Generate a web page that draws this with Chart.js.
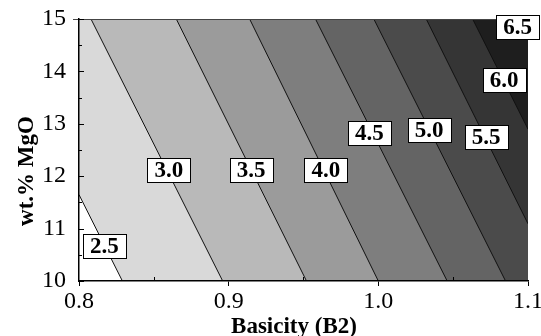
<!DOCTYPE html>
<html>
<head>
<meta charset="utf-8">
<script src="https://cdn.jsdelivr.net/npm/chart.js@4.4.1/dist/chart.umd.min.js"></script>
<style>
  html, body { margin: 0; padding: 0; background: #fff; }
  #wrap { width: 541px; height: 336px; }
</style>
</head>
<body>
<div id="wrap"><canvas id="contour"></canvas></div>
<script>
'use strict';

// ── data ─────────────────────────────────────
// each contour is a straight line, read off where it meets MgO = 10 and MgO = 15
const contourLevels   = [2.5, 3.0, 3.5, 4.0, 4.5, 5.0, 5.5, 6.0, 6.5];
const basicityAtMgO10 = [0.829, 0.896, 0.952, 1.000, 1.046, 1.085, 1.119, 1.151, 1.188];
const basicityAtMgO15 = [0.741, 0.808, 0.865, 0.914, 0.958, 0.997, 1.032, 1.063, 1.100];

// where the level boxes sit (basicity, wt.% MgO)
const labelBasicity = [0.817, 0.860, 0.915, 0.965, 0.994, 1.034, 1.072, 1.084, 1.093];
const labelMgO      = [10.67, 12.12, 12.12, 12.12, 12.82, 12.89, 12.75, 13.84, 14.85];

const xTicks      = [0.8, 0.9, 1.0, 1.1];
const xMinorTicks = [0.85, 0.95, 1.05];
const yTicks      = [10, 11, 12, 13, 14, 15];
const yMinorTicks = [10.5, 11.5, 12.5, 13.5, 14.5];

// fill above each contour, light to dark
const bandGreys = ['#d9d9d9', '#b9b9b9', '#9b9b9b', '#7e7e7e', '#646464',
                   '#4b4b4b', '#353535', '#1e1e1e', '#0c0c0c'];

const SERIF = "'Liberation Serif', 'Times New Roman', serif";

// ── contour datasets ─────────────────────────
const xMin = xTicks[0];
const xMax = xTicks[xTicks.length - 1];
const yMin = yTicks[0];
const yMax = yTicks[yTicks.length - 1];

function mgoOnContour(i, b) {
  const b10 = basicityAtMgO10[i];
  const b15 = basicityAtMgO15[i];
  return yMin + (yMax - yMin) * (b - b10) / (b15 - b10);
}

const datasets = contourLevels.map((lvl, i) => ({
  label: String(lvl),
  data: [
    { x: xMin, y: mgoOnContour(i, xMin) },
    { x: xMax, y: mgoOnContour(i, xMax) },
  ],
  borderColor: '#111',
  borderWidth: 1,
  pointRadius: 0,
  fill: 'end',
  backgroundColor: bandGreys[i],
  order: contourLevels.length - i,
}));

// ── extras: level boxes, inner ticks, axis titles ──
const contourExtras = {
  id: 'contourExtras',
  afterDatasetsDraw(chart) {
    const { ctx, chartArea: a, scales: { x, y } } = chart;
    ctx.save();

    // top frame
    ctx.strokeStyle = '#444';
    ctx.lineWidth = 1;
    ctx.beginPath();
    ctx.moveTo(a.left - 6, a.top + 0.5);
    ctx.lineTo(a.right, a.top + 0.5);
    ctx.stroke();

    // inward ticks
    ctx.strokeStyle = '#000';
    ctx.lineWidth = 1;
    ctx.beginPath();
    yTicks.forEach(v => {
      const py = Math.round(y.getPixelForValue(v)) + 0.5;
      ctx.moveTo(a.left, py); ctx.lineTo(a.left + 5, py);
    });
    yMinorTicks.forEach(v => {
      const py = Math.round(y.getPixelForValue(v)) + 0.5;
      ctx.moveTo(a.left, py); ctx.lineTo(a.left + 3, py);
    });
    xMinorTicks.forEach(v => {
      const px = Math.round(x.getPixelForValue(v)) + 0.5;
      ctx.moveTo(px, a.bottom); ctx.lineTo(px, a.bottom - 4);
    });
    ctx.stroke();

    // level boxes
    ctx.font = `bold 23px ${SERIF}`;
    ctx.textAlign = 'center';
    ctx.textBaseline = 'middle';
    contourLevels.forEach((lvl, i) => {
      const txt = lvl.toFixed(1);
      const cx = x.getPixelForValue(labelBasicity[i]);
      const cy = y.getPixelForValue(labelMgO[i]);
      const w = Math.round(ctx.measureText(txt).width + 14);
      const h = 24;
      const bx = Math.round(cx - w / 2) + 0.5;
      const by = Math.round(cy - h / 2) + 0.5;
      ctx.fillStyle = '#fff';
      ctx.fillRect(bx, by, w, h);
      ctx.strokeStyle = '#000';
      ctx.lineWidth = 1;
      ctx.strokeRect(bx, by, w, h);
      ctx.fillStyle = '#000';
      ctx.fillText(txt, cx, cy + 1);
    });

    // axis titles
    ctx.font = `bold 23px ${SERIF}`;
    ctx.textBaseline = 'alphabetic';
    ctx.fillText('Basicity (B2)', 294, 333);
    ctx.translate(33, 171);
    ctx.rotate(-Math.PI / 2);
    ctx.fillText('wt.% MgO', 0, 0);

    ctx.restore();
  },
};

// ── chart ────────────────────────────────────
new Chart(document.getElementById('contour').getContext('2d'), {
  type: 'line',
  data: { datasets },
  options: {
    responsive: true,
    maintainAspectRatio: false,
    animation: false,
    layout: { padding: { top: 19, right: 13, left: 0, bottom: 0 } },
    plugins: {
      legend: { display: false },
      tooltip: { enabled: false },
    },
    scales: {
      x: {
        type: 'linear',
        min: xMin,
        max: xMax,
        afterBuildTicks: (s) => { s.ticks = xTicks.map(v => ({ value: v })); },
        afterFit: (s) => { s.height = 55; s.paddingLeft = 0; s.paddingRight = 0; },
        ticks: {
          color: '#000',
          font: { family: SERIF, size: 24 },
          padding: 1,
          maxRotation: 0,
          callback: (v) => Number(v).toFixed(1),
        },
        grid: { drawOnChartArea: false, drawTicks: true, tickLength: 5, color: '#000' },
        border: { display: true, color: '#000', width: 1.5, z: 1 },
      },
      y: {
        min: yMin,
        max: yMax,
        afterBuildTicks: (s) => { s.ticks = yTicks.map(v => ({ value: v })); },
        afterFit: (s) => { s.width = 79; s.paddingTop = 0; s.paddingBottom = 0; },
        ticks: {
          color: '#000',
          font: { family: SERIF, size: 24 },
          padding: 13,
        },
        grid: { display: false, drawTicks: false },
        border: { display: true, color: '#000', width: 1.5, z: 1 },
      },
    },
  },
  plugins: [contourExtras],
});
</script>
</body>
</html>
